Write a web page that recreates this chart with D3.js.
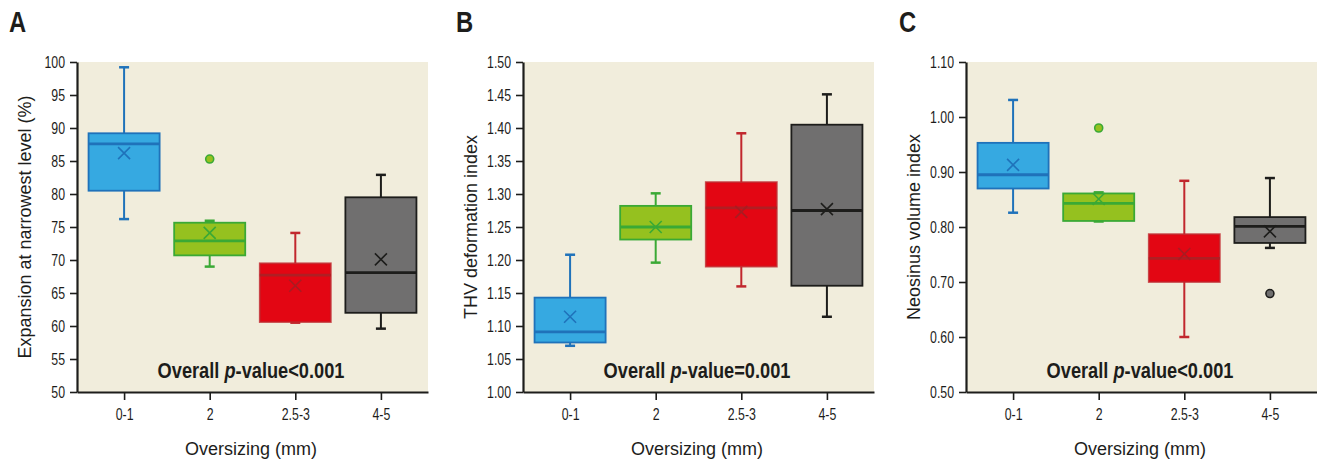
<!DOCTYPE html>
<html>
<head>
<meta charset="utf-8">
<script src="https://cdn.jsdelivr.net/npm/d3@7"></script>
<style>
  html, body { margin: 0; padding: 0; background: #ffffff; }
  svg { display: block; }
</style>
</head>
<body>
<svg id="chart" width="1317" height="462"></svg>
<script>
// ---------- data ----------
const categories = ["0-1", "2", "2.5-3", "4-5"];
const groupFills   = ["#36a9e1", "#95c11f", "#e30613", "#706f6f"];
const groupStrokes = ["#1f72ba", "#3aa935", "#c1272d", "#1d1d1b"];

// Panel A: Expansion at narrowest level (%)
const expWhiskerLow  = [76.2, 69.0, 60.5, 59.6];
const expQ1          = [80.5, 70.7, 60.6, 62.0];
const expMedian      = [87.6, 72.9, 67.7, 68.1];
const expQ3          = [89.2, 75.65, 69.5, 79.5];
const expWhiskerHigh = [99.2, 75.95, 74.1, 82.9];
const expMean        = [86.2, 74.1, 66.1, 70.1];
const expOutliers    = [[], [85.3], [], []];
const expTicks       = [50, 55, 60, 65, 70, 75, 80, 85, 90, 95, 100];

// Panel B: THV deformation index
const thvWhiskerLow  = [1.070, 1.196, 1.160, 1.114];
const thvQ1          = [1.075, 1.231, 1.190, 1.161];
const thvMedian      = [1.091, 1.250, 1.279, 1.275];
const thvQ3          = [1.143, 1.282, 1.318, 1.405];
const thvWhiskerHigh = [1.208, 1.301, 1.392, 1.451];
const thvMean        = [1.114, 1.250, 1.273, 1.277];
const thvOutliers    = [[], [], [], []];
const thvTicks       = [1.00, 1.05, 1.10, 1.15, 1.20, 1.25, 1.30, 1.35, 1.40, 1.45, 1.50];

// Panel C: Neosinus volume index
const nvWhiskerLow  = [0.826, 0.810, 0.600, 0.762];
const nvQ1          = [0.870, 0.811, 0.700, 0.771];
const nvMedian      = [0.895, 0.843, 0.743, 0.801];
const nvQ3          = [0.953, 0.861, 0.787, 0.818];
const nvWhiskerHigh = [1.031, 0.863, 0.884, 0.889];
const nvMean        = [0.913, 0.851, 0.751, 0.792];
const nvOutliers    = [[], [0.980], [], [0.679]];
const nvTicks       = [0.50, 0.60, 0.70, 0.80, 0.90, 1.00, 1.10];

const panels = [
  { letter: "A", x0: 77,  yTitle: "Expansion at narrowest level (%)", domain: [50, 100], ticks: expTicks, fmt: d3.format("d"),
    lo: expWhiskerLow, q1: expQ1, med: expMedian, q3: expQ3, hi: expWhiskerHigh, mean: expMean, out: expOutliers,
    pText: "<0.001", letterX: 9 },
  { letter: "B", x0: 523, yTitle: "THV deformation index", domain: [1.0, 1.5], ticks: thvTicks, fmt: d3.format(".2f"),
    lo: thvWhiskerLow, q1: thvQ1, med: thvMedian, q3: thvQ3, hi: thvWhiskerHigh, mean: thvMean, out: thvOutliers,
    pText: "=0.001", letterX: 456 },
  { letter: "C", x0: 966, yTitle: "Neosinus volume index", domain: [0.5, 1.1], ticks: nvTicks, fmt: d3.format(".2f"),
    lo: nvWhiskerLow, q1: nvQ1, med: nvMedian, q3: nvQ3, hi: nvWhiskerHigh, mean: nvMean, out: nvOutliers,
    pText: "<0.001", letterX: 899 }
];

// ---------- layout ----------
const plotTop = 62, plotBottom = 392, plotW = 351;
const sans = "'Liberation Sans', Arial, Helvetica, sans-serif";
const svg = d3.select("#chart");

// horizontally condense text to mimic a condensed typeface
function condense(sel, factor) {
  sel.each(function () {
    const len = this.getComputedTextLength();
    d3.select(this).attr("textLength", len * factor).attr("lengthAdjust", "spacingAndGlyphs");
  });
}

panels.forEach(p => {
  const x = d3.scalePoint().domain(categories).range([p.x0, p.x0 + plotW]).padding(0.55);
  const y = d3.scaleLinear().domain(p.domain).range([plotBottom, plotTop]);
  const boxW = x.step() * 0.83;
  const capW = 10;

  // panel letter
  svg.append("text").attr("x", p.letterX).attr("y", 32)
    .attr("font-family", sans).attr("font-weight", "bold").attr("font-size", 29)
    .attr("fill", "#1d1d1b").text(p.letter).call(condense, 0.82);

  // background
  svg.append("rect").attr("x", p.x0).attr("y", plotTop)
    .attr("width", plotW).attr("height", plotBottom - plotTop)
    .attr("fill", "#f1eddc");

  const g = svg.append("g");

  categories.forEach((c, i) => {
    const cx = x(c);
    const fill = groupFills[i], stroke = groupStrokes[i];
    // whiskers
    g.append("line").attr("x1", cx).attr("x2", cx).attr("y1", y(p.hi[i])).attr("y2", y(p.q3[i]))
      .attr("stroke", stroke).attr("stroke-width", 2);
    g.append("line").attr("x1", cx).attr("x2", cx).attr("y1", y(p.q1[i])).attr("y2", y(p.lo[i]))
      .attr("stroke", stroke).attr("stroke-width", 2);
    g.append("line").attr("x1", cx - capW / 2).attr("x2", cx + capW / 2).attr("y1", y(p.hi[i])).attr("y2", y(p.hi[i]))
      .attr("stroke", stroke).attr("stroke-width", 2.5);
    g.append("line").attr("x1", cx - capW / 2).attr("x2", cx + capW / 2).attr("y1", y(p.lo[i])).attr("y2", y(p.lo[i]))
      .attr("stroke", stroke).attr("stroke-width", 2.5);
    // box
    g.append("rect").attr("x", cx - boxW / 2).attr("y", y(p.q3[i]))
      .attr("width", boxW).attr("height", y(p.q1[i]) - y(p.q3[i]))
      .attr("fill", fill).attr("stroke", stroke).attr("stroke-width", 1.8)
      .attr("stroke-opacity", i === 2 ? 0.8 : 1);
    // median
    g.append("line").attr("x1", cx - boxW / 2).attr("x2", cx + boxW / 2)
      .attr("y1", y(p.med[i])).attr("y2", y(p.med[i]))
      .attr("stroke", i === 2 ? "#b01e23" : stroke).attr("stroke-width", 2.8);
    // mean marker
    const my = y(p.mean[i]), s = 6;
    g.append("path").attr("d", `M${cx - s},${my - s}L${cx + s},${my + s}M${cx - s},${my + s}L${cx + s},${my - s}`)
      .attr("stroke", i === 2 ? "#a81c22" : stroke).attr("stroke-width", 1.6).attr("fill", "none");
    // outliers
    p.out[i].forEach(v => {
      g.append("circle").attr("cx", cx).attr("cy", y(v)).attr("r", 4)
        .attr("fill", fill).attr("stroke", stroke).attr("stroke-width", 1.6);
    });
  });

  // y axis
  const yAxis = d3.axisLeft(y).tickValues(p.ticks).tickFormat(p.fmt).tickSize(7).tickPadding(5).tickSizeOuter(0);
  const ya = svg.append("g").attr("transform", `translate(${p.x0},0)`).call(yAxis);
  ya.select(".domain").attr("stroke", "#1d1d1b").attr("stroke-width", 2.2);
  ya.selectAll(".tick line").attr("stroke", "#1d1d1b").attr("stroke-width", 1.6);
  ya.selectAll(".tick text").attr("font-family", sans).attr("font-size", 16).attr("fill", "#1d1d1b")
    .call(condense, 0.77);

  // x axis
  const xAxis = d3.axisBottom(x).tickSize(8).tickPadding(9).tickSizeOuter(0);
  const xa = svg.append("g").attr("transform", `translate(0,${plotBottom})`).call(xAxis);
  xa.select(".domain").attr("stroke", "#1d1d1b").attr("stroke-width", 2.2);
  xa.selectAll(".tick line").attr("stroke", "#1d1d1b").attr("stroke-width", 1.6);
  xa.selectAll(".tick text").attr("font-family", sans).attr("font-size", 16).attr("fill", "#1d1d1b")
    .call(condense, 0.77);

  // axis titles
  svg.append("text").attr("transform", `translate(${p.x0 - 46},${(plotTop + plotBottom) / 2}) rotate(-90)`)
    .attr("text-anchor", "middle").attr("font-family", sans).attr("font-size", 18)
    .attr("fill", "#1d1d1b").text(p.yTitle);
  svg.append("text").attr("x", p.x0 + plotW / 2 - 1.5).attr("y", 455)
    .attr("text-anchor", "middle").attr("font-family", sans).attr("font-size", 18)
    .attr("fill", "#1d1d1b").text("Oversizing (mm)");

  // p-value annotation (condensed via horizontal scale)
  const pg = svg.append("g");
  const t = pg.append("text").attr("x", 0).attr("y", 0)
    .attr("text-anchor", "middle").attr("font-family", sans).attr("font-weight", "bold")
    .attr("font-size", 22).attr("fill", "#1d1d1b");
  t.append("tspan").text("Overall ");
  t.append("tspan").attr("font-style", "italic").text("p");
  t.append("tspan").text("-value" + p.pText);
  const natural = t.node().getComputedTextLength();
  pg.attr("transform", `translate(${p.x0 + plotW / 2 - 1.5},378) scale(${187 / natural},1)`);
});
</script>
</body>
</html>
